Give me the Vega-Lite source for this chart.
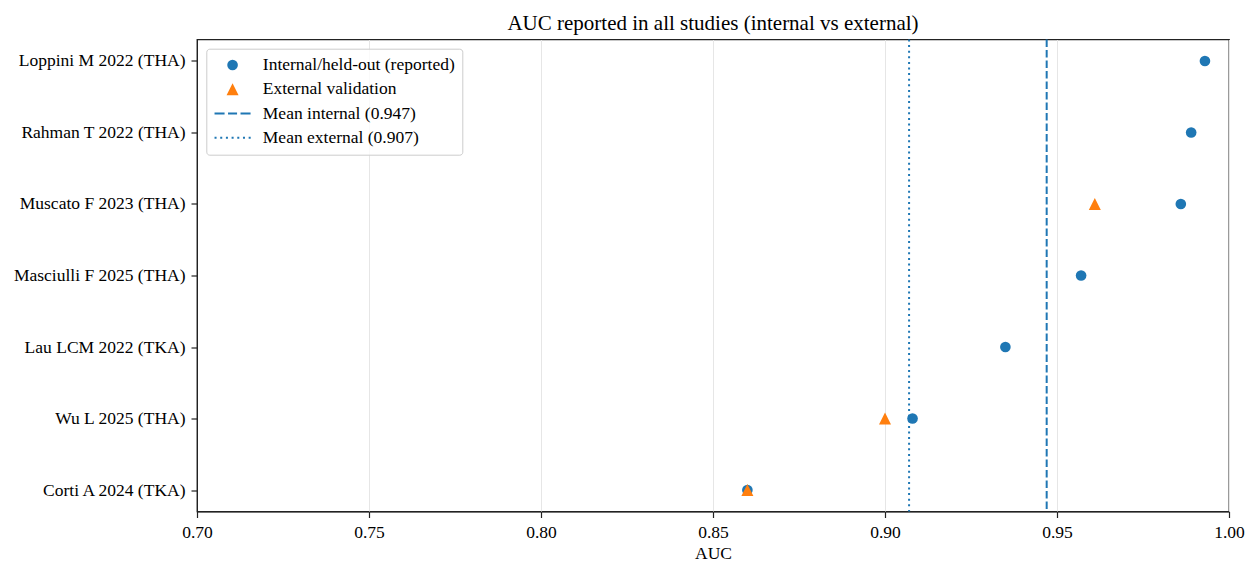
{
  "$schema": "https://vega.github.io/schema/vega-lite/v6.json",
  "width": 1032,
  "height": 472,
  "autosize": {"type": "none"},
  "padding": {"left": 197, "top": 39.5, "right": 18, "bottom": 50.5},
  "background": "white",
  "config": {
    "font": "Liberation Serif",
    "view": {"stroke": "#222222", "strokeWidth": 1.3},
    "axis": {
      "labelFont": "Liberation Serif",
      "titleFont": "Liberation Serif",
      "labelFontSize": 17.5,
      "titleFontSize": 17.5,
      "titleFontWeight": "normal",
      "labelColor": "#000000",
      "titleColor": "#000000",
      "domainColor": "#222222",
      "tickColor": "#222222",
      "tickSize": 6,
      "tickWidth": 1.2,
      "labelPadding": 6,
      "labelFlush": false,
      "labelOverlap": false
    },
    "legend": {
      "labelFont": "Liberation Serif",
      "labelFontSize": 17.5,
      "labelColor": "#000000",
      "labelLimit": 400
    }
  },
  "title": {
    "text": "AUC reported in all studies (internal vs external)",
    "font": "Liberation Serif",
    "fontSize": 21,
    "fontWeight": "normal",
    "color": "#000000",
    "anchor": "middle",
    "offset": 5
  },
  "datasets": {
    "points": [
      {"study": "Loppini M 2022 (THA)", "type": "Internal/held-out (reported)", "auc": 0.993},
      {"study": "Rahman T 2022 (THA)", "type": "Internal/held-out (reported)", "auc": 0.989},
      {"study": "Muscato F 2023 (THA)", "type": "Internal/held-out (reported)", "auc": 0.986},
      {"study": "Masciulli F 2025 (THA)", "type": "Internal/held-out (reported)", "auc": 0.957},
      {"study": "Lau LCM 2022 (TKA)", "type": "Internal/held-out (reported)", "auc": 0.935},
      {"study": "Wu L 2025 (THA)", "type": "Internal/held-out (reported)", "auc": 0.908},
      {"study": "Corti A 2024 (TKA)", "type": "Internal/held-out (reported)", "auc": 0.860},
      {"study": "Muscato F 2023 (THA)", "type": "External validation", "auc": 0.961},
      {"study": "Wu L 2025 (THA)", "type": "External validation", "auc": 0.900},
      {"study": "Corti A 2024 (TKA)", "type": "External validation", "auc": 0.860}
    ],
    "means": [
      {"label": "Mean internal (0.947)", "auc": 0.947},
      {"label": "Mean external (0.907)", "auc": 0.907}
    ]
  },
  "layer": [
    {
      "data": {"name": "points"},
      "mark": {"type": "point", "filled": true, "opacity": 1, "size": 113},
      "encoding": {
        "x": {
          "field": "auc",
          "type": "quantitative",
          "scale": {"domain": [0.7, 1.0], "nice": false, "zero": false},
          "axis": {
            "values": [0.7, 0.75, 0.8, 0.85, 0.9, 0.95, 1.0],
            "format": ".2f",
            "title": "AUC",
            "titlePadding": 3,
            "grid": true,
            "gridColor": "#e6e6e6",
            "gridWidth": 1
          }
        },
        "y": {
          "field": "study",
          "type": "nominal",
          "sort": ["Loppini M 2022 (THA)", "Rahman T 2022 (THA)", "Muscato F 2023 (THA)", "Masciulli F 2025 (THA)", "Lau LCM 2022 (TKA)", "Wu L 2025 (THA)", "Corti A 2024 (TKA)"],
          "scale": {"type": "point", "padding": 0.3},
          "axis": {"title": null, "grid": false}
        },
        "color": {
          "field": "type",
          "type": "nominal",
          "scale": {
            "domain": ["Internal/held-out (reported)", "External validation", "Mean internal (0.947)", "Mean external (0.907)"],
            "range": ["#1f77b4", "#ff7f0e", "#1f77b4", "#1f77b4"]
          },
          "legend": {
            "title": null,
            "orient": "none",
            "legendX": 9.3,
            "legendY": 9.2,
            "padding": 7.5,
            "rowPadding": 5.3,
            "symbolSize": 113,
            "symbolOffset": 10,
            "labelOffset": 21.5,
            "fillColor": "rgba(255,255,255,0.8)",
            "strokeColor": "#cccccc",
            "cornerRadius": 3,
            "symbolOpacity": 1,
            "symbolStrokeWidth": 0
          }
        },
        "shape": {
          "field": "type",
          "type": "nominal",
          "scale": {
            "domain": ["Internal/held-out (reported)", "External validation", "Mean internal (0.947)", "Mean external (0.907)"],
            "range": [
              "circle",
              "M0,-1.13L1.13,1.13L-1.13,1.13Z",
              "M-3.39,-0.19L-1.5,-0.19L-1.5,0.19L-3.39,0.19ZM-0.85,-0.19L0.85,-0.19L0.85,0.19L-0.85,0.19ZM1.5,-0.19L3.39,-0.19L3.39,0.19L1.5,0.19Z",
              "M-3.39,-0.19L-3.01,-0.19L-3.01,0.19L-3.39,0.19ZM-2.32,-0.19L-1.94,-0.19L-1.94,0.19L-2.32,0.19ZM-1.25,-0.19L-0.87,-0.19L-0.87,0.19L-1.25,0.19ZM-0.18,-0.19L0.2,-0.19L0.2,0.19L-0.18,0.19ZM0.89,-0.19L1.27,-0.19L1.27,0.19L0.89,0.19ZM1.96,-0.19L2.34,-0.19L2.34,0.19L1.96,0.19ZM3.03,-0.19L3.41,-0.19L3.41,0.19L3.03,0.19Z"
            ]
          }
        }
      }
    },
    {
      "data": {"name": "means"},
      "mark": {"type": "rule", "color": "#1f77b4", "strokeWidth": 2},
      "encoding": {
        "x": {"field": "auc", "type": "quantitative"},
        "strokeDash": {
          "field": "label",
          "type": "nominal",
          "scale": {
            "domain": ["Mean internal (0.947)", "Mean external (0.907)"],
            "range": [[7.5, 3], [2, 3.6]]
          },
          "legend": null
        }
      }
    }
  ]
}
